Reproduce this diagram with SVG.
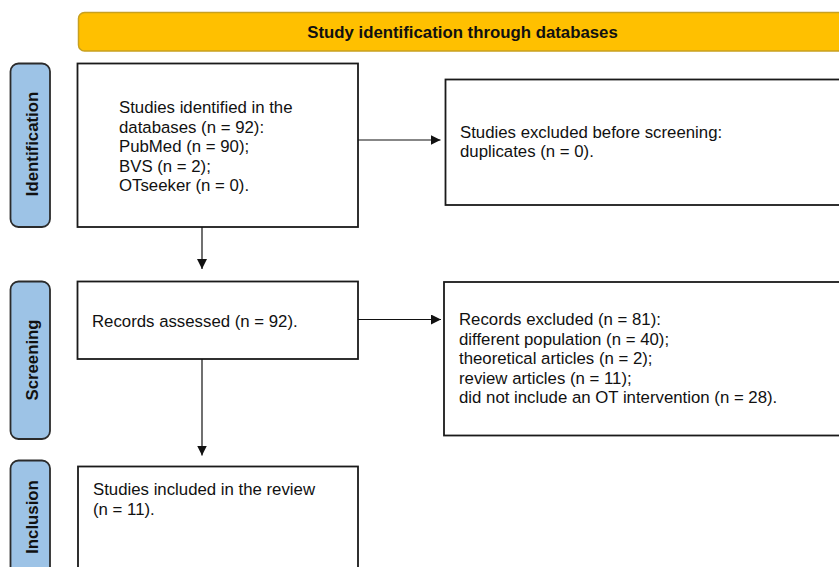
<svg xmlns="http://www.w3.org/2000/svg" width="839" height="567" viewBox="0 0 839 567">
<style>
.box{fill:#fff;stroke:#1a1a1a;stroke-width:1.8}
.side{fill:#9dc3e6;stroke:#2b2b2b;stroke-width:1.8}
.t{font-family:"Liberation Sans",Arial,sans-serif;font-size:16.8px;fill:#111}
.b{font-family:"Liberation Sans",Arial,sans-serif;font-size:16.8px;font-weight:bold;fill:#111}
.c{stroke:#111;stroke-width:1.2;fill:none}
</style>
<defs>
<marker id="ah" markerWidth="10" markerHeight="10" refX="10" refY="5" orient="auto" markerUnits="userSpaceOnUse">
<path d="M0,0 L10,5 L0,10 Z" fill="#111"/>
</marker>
</defs>
<g id="banner">
<rect x="78.5" y="12.5" width="780" height="38.5" rx="6" fill="#ffc000" stroke="#c8a020" stroke-width="1.5"/>
<text class="b" x="462.5" y="38" text-anchor="middle">Study identification through databases</text>
</g>
<g id="phase-identification">
<rect class="side" x="10.5" y="63.5" width="39.5" height="163.5" rx="8"/>
<text class="b" transform="translate(37.5,144) rotate(-90)" text-anchor="middle">Identification</text>
</g>
<g id="phase-screening">
<rect class="side" x="10.5" y="281.5" width="39.5" height="157.5" rx="8"/>
<text class="b" transform="translate(37.5,360) rotate(-90)" text-anchor="middle">Screening</text>
</g>
<g id="phase-inclusion">
<rect class="side" x="10.5" y="460.5" width="39.5" height="120" rx="8"/>
<text class="b" transform="translate(37.5,517) rotate(-90)" text-anchor="middle">Inclusion</text>
</g>
<g id="identified">
<rect class="box" x="77.5" y="63.5" width="280.5" height="163.5"/>
<text class="t" x="119" y="113">Studies identified in the</text>
<text class="t" x="119" y="132.5">databases (n = 92):</text>
<text class="t" x="119" y="152">PubMed (n = 90);</text>
<text class="t" x="119" y="171.5">BVS (n = 2);</text>
<text class="t" x="119" y="191">OTseeker (n = 0).</text>
</g>
<g id="excluded-before">
<rect class="box" x="445.5" y="79.5" width="410" height="125.5"/>
<text class="t" x="460" y="137.5">Studies excluded before screening:</text>
<text class="t" x="460" y="157">duplicates (n = 0).</text>
</g>
<g id="assessed">
<rect class="box" x="77.5" y="281.5" width="280.5" height="77.5"/>
<text class="t" x="92" y="327">Records assessed (n = 92).</text>
</g>
<g id="records-excluded">
<rect class="box" x="444" y="282" width="410" height="153.5"/>
<text class="t" x="459" y="325">Records excluded (n = 81):</text>
<text class="t" x="459" y="344.5">different population (n = 40);</text>
<text class="t" x="459" y="364">theoretical articles (n = 2);</text>
<text class="t" x="459" y="383.5">review articles (n = 11);</text>
<text class="t" x="459" y="403">did not include an OT intervention (n = 28).</text>
</g>
<g id="included">
<rect class="box" x="78" y="466.5" width="280" height="120"/>
<text class="t" x="93" y="495">Studies included in the review</text>
<text class="t" x="93" y="514.5">(n = 11).</text>
</g>
<g id="connectors">
<line class="c" x1="358" y1="140" x2="440.5" y2="140" marker-end="url(#ah)"/>
<line class="c" x1="202" y1="227" x2="202" y2="269" marker-end="url(#ah)"/>
<line class="c" x1="358" y1="319.5" x2="441" y2="319.5" marker-end="url(#ah)"/>
<line class="c" x1="202" y1="359" x2="202" y2="455.5" marker-end="url(#ah)"/>
</g>
</svg>
